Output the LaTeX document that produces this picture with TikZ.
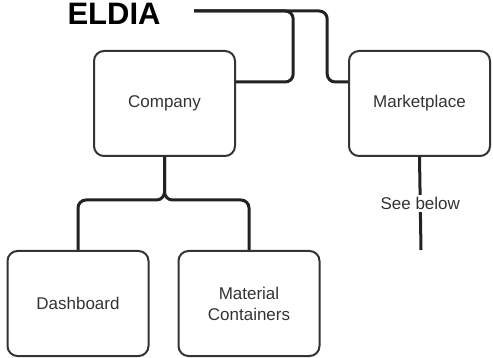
\documentclass[tikz,border=0pt]{standalone}
\usepackage{fontspec}
\setmainfont{Liberation Sans}
\usetikzlibrary{positioning}
\definecolor{boxgray}{HTML}{333333}
\definecolor{wiregray}{HTML}{222222}
\definecolor{textgray}{HTML}{333333}

\begin{document}
\begin{tikzpicture}[
    x=1pt, y=-1pt,
    module/.style={
        rectangle, draw=boxgray, line width=2pt, rounded corners=10pt,
        minimum width=141pt, minimum height=105pt,
        font=\fontsize{17}{21}\selectfont, text=textgray, align=center
    },
    wire/.style={draw=wiregray, line width=3pt, rounded corners=8pt},
    title/.style={font=\fontsize{31}{36}\selectfont\bfseries, text=black,
        minimum width=160pt, inner sep=0pt},
    note/.style={font=\fontsize{17}{21}\selectfont, text=textgray, fill=white,
        inner sep=2pt}
]
\useasboundingbox (0,0) rectangle (493,358);

%% ---- Root ----
\node[title] (eldia) at (114,14) {ELDIA};

%% ---- Row 1 ----
\node[module] (company) at (164.5,103.5) {Company};
\node[module, right=112pt of company] (market) {Marketplace};

%% ---- Row 2 ----
\node[module] (dash) at (78,303.5) {Dashboard};
\node[module, right=28pt of dash] (material) {Material\\Containers};

% ELDIA owns both top modules
\draw[wire] ([yshift=3pt]eldia.east) -- ++(99,0) |- ([yshift=21.5pt]company.east);
\draw[wire] ([yshift=3pt]eldia.east) -- ++(133,0) |- ([yshift=21.5pt]market.west);

% Company splits into its two parts
\draw[wire] (company.south) -- ++(0,43) -| (dash.north);
\draw[wire] (company.south) -- ++(0,43) -| (material.north);

% Marketplace continues below
\coordinate (market_end) at (421,250);
\draw[wire, rounded corners=0pt] (market.south) -- (market_end)
    node[pos=0.5, note] (seebelow) {See below};

\end{tikzpicture}
\end{document}
